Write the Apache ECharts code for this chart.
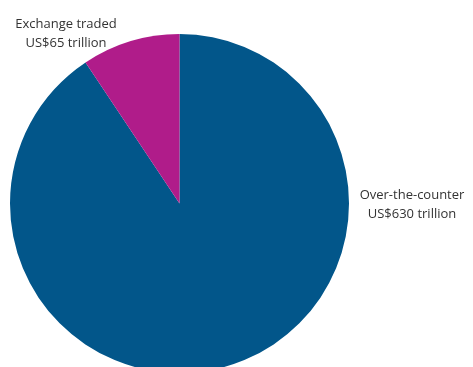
<!DOCTYPE html>
<html>
<head>
<meta charset="utf-8">
<script src="https://cdn.jsdelivr.net/npm/echarts@6/dist/echarts.min.js"></script>
<style>
  html, body { margin: 0; padding: 0; background: #fff; }
  #chart { width: 473px; height: 367px; }
</style>
</head>
<body>
<div id="chart"></div>
<script>
// 数据
var names = ['Over-the-counter', 'Exchange traded'];
var values = [630, 65];
var valueLabels = ['US$630 trillion', 'US$65 trillion'];
var colors = ['#02568a', '#b01c8a'];

// 标签位置（像素）
var labelPos = [[412, 205], [66, 34]];

var myChart = echarts.init(document.getElementById('chart'));

var data = names.map(function (n, i) {
  return { name: n, value: values[i], itemStyle: { color: colors[i] } };
});

var option = {
  animation: false,
  series: [
    {
      type: 'pie',
      center: [179.5, 203.5],
      radius: [0, 169.5],
      startAngle: 90,
      clockwise: true,
      itemStyle: { borderWidth: 0 },
      label: {
        show: true,
        formatter: function (p) {
          return p.name + '\n' + valueLabels[p.dataIndex];
        },
        fontFamily: 'Open Sans',
        fontSize: 13,
        lineHeight: 19,
        color: '#333',
        align: 'center',
        overflow: 'none'
      },
      labelLine: { show: false },
      labelLayout: function (params) {
        var p = labelPos[params.dataIndex];
        return { x: p[0], y: p[1], align: 'center', verticalAlign: 'middle' };
      },
      emphasis: { disabled: true },
      data: data
    }
  ]
};

myChart.setOption(option);
</script>
</body>
</html>
